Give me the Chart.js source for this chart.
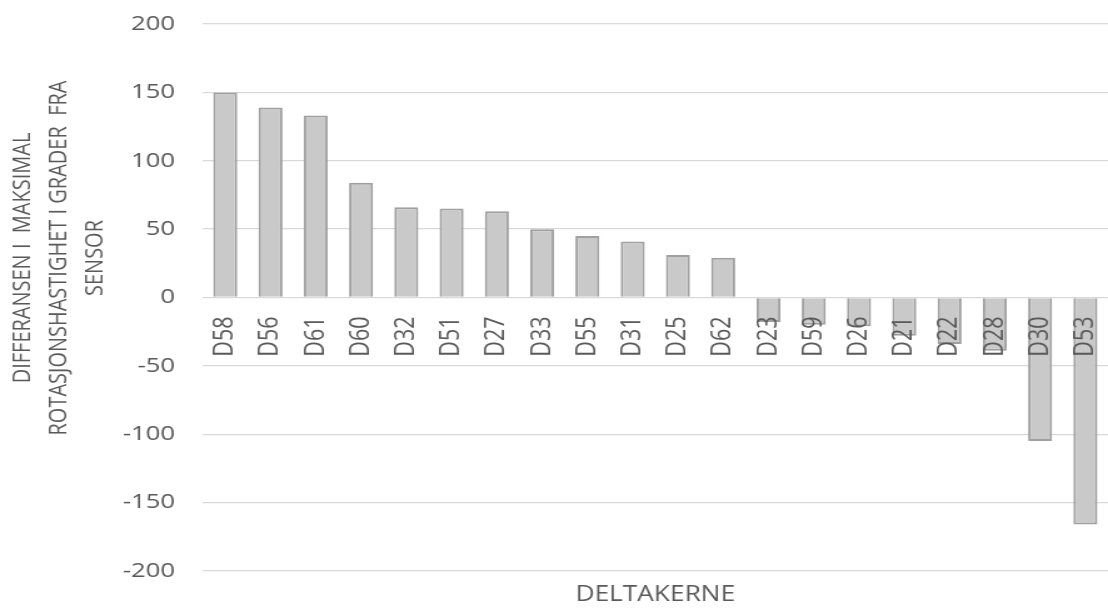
<!DOCTYPE html>
<html>
<head>
<meta charset="utf-8">
<script src="https://cdn.jsdelivr.net/npm/chart.js@4/dist/chart.umd.min.js"></script>
<style>
  html, body { margin: 0; padding: 0; background: #fff; overflow: hidden; }
  #barChart { display: block; }
</style>
</head>
<body>
<!-- chart is drawn narrower and stretched sideways, like the original picture -->
<canvas id="barChart" width="886" height="608" style="width:1108px;height:608px"></canvas>
<script>
let deltakere = ['D58', 'D56', 'D61', 'D60', 'D32', 'D51', 'D27', 'D33', 'D55', 'D31',
                 'D25', 'D62', 'D23', 'D59', 'D26', 'D21', 'D22', 'D28', 'D30', 'D53']
let differanse = [150, 139, 133, 84, 66, 65, 63, 50, 45, 41,
                  31, 29, -18, -20, -21, -28, -34, -39, -105, -166]
let yTicks = [-200, -150, -100, -50, 0, 50, 100, 150, 200]
let yTittel = ['DIFFERANSEN I  MAKSIMAL', 'ROTASJONSHASTIGHET I GRADER  FRA', 'SENSOR']
let xTittel = 'DELTAKERNE'

let grey = '#595959'
let fill = '#c9c9c9'
let edge = '#a0a0a0'
let gridGrey = '#d9d9d9'
let fontName = "'Open Sans', 'Noto Sans', sans-serif"

// axis titles placed by hand (Excel puts them off-centre)
let axisTitles = {
    id: 'axisTitles',
    afterDraw(chart) {
        let c = chart.ctx
        let area = chart.chartArea
        c.save()
        c.fillStyle = grey
        c.font = '20px ' + fontName
        c.textAlign = 'center'
        c.textBaseline = 'middle'
        let xs = [18.5, 47.5, 76]
        yTittel.forEach((t, i) => {
            c.save()
            c.translate(xs[i], 258)
            c.rotate(-Math.PI / 2)
            c.fillText(t, 0, 0)
            c.restore()
        })
        c.font = '21px ' + fontName
        c.fillText(xTittel, (area.left + area.right) / 2, 595)
        c.restore()
    }
}

// no extra edge padding from the tick labels
function noPadding(scale) {
    scale.paddingLeft = 0
    scale.paddingRight = 0
    scale.paddingTop = 0
    scale.paddingBottom = 0
}

var ctx = document.getElementById('barChart').getContext('2d');

var chart = new Chart(ctx, {
    type: 'bar',
    data: {
        labels: deltakere,
        datasets: [{
            data: differanse,
            backgroundColor: fill,
            borderColor: edge,
            borderWidth: 2,
            barPercentage: 0.53,
            categoryPercentage: 1
        }]
    },
    options: {
        responsive: false,
        animation: false,
        devicePixelRatio: 1,
        layout: { padding: { top: 24, bottom: 37, left: 0, right: 0 } },
        plugins: {
            legend: { display: false },
            tooltip: { enabled: false }
        },
        scales: {
            x: {
                position: { y: 0 },
                afterFit: noPadding,
                grid: { display: false },
                border: { display: false },
                ticks: {
                    z: 1,
                    autoSkip: false,
                    minRotation: 90,
                    maxRotation: 90,
                    padding: 11,
                    color: grey,
                    font: { family: fontName, size: 21.5 }
                }
            },
            y: {
                min: -200,
                max: 200,
                afterFit(scale) { noPadding(scale); scale.width = 162 },
                afterBuildTicks(scale) { scale.ticks = yTicks.map(v => ({ value: v })) },
                grid: { color: gridGrey, lineWidth: 1.3, drawTicks: false },
                border: { display: false },
                ticks: {
                    padding: 22,
                    color: grey,
                    font: { family: fontName, size: 20.5 }
                }
            }
        }
    },
    plugins: [axisTitles]
});
</script>
</body>
</html>
